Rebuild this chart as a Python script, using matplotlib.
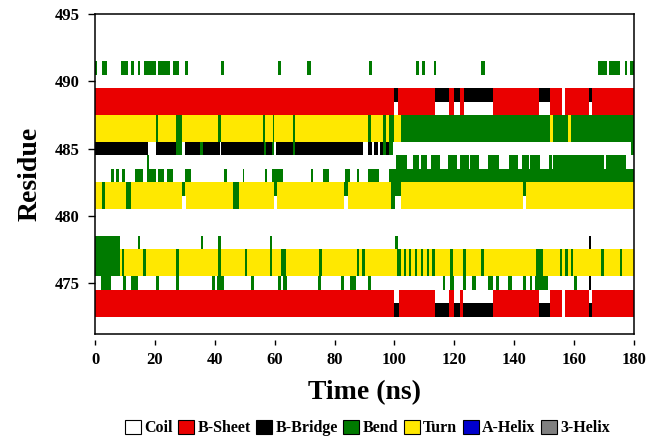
import matplotlib
matplotlib.use("Agg")
import matplotlib.pyplot as plt
from matplotlib.patches import Patch

plt.rcParams['font.family'] = ['Liberation Serif', 'DejaVu Serif']
plt.rcParams['font.weight'] = 'bold'

# DSSP states and colours
states = ["Coil", "B-Sheet", "B-Bridge", "Bend", "Turn", "A-Helix", "3-Helix"]
colors = ["#ffffff", "#ea0000", "#000000", "#007a00", "#ffe800", "#0000cc", "#808080"]

# each row: (state, start ns, end ns); later entries paint over earlier ones, Coil is background
r491 = [("Bend", 0, 0.7), ("Bend", 2.3, 3.9), ("Bend", 8.6, 11.0), ("Bend", 11.9, 13.1),
        ("Bend", 14.3, 15.1), ("Bend", 16.2, 20.4), ("Bend", 20.9, 25.0), ("Bend", 26.2, 28.2),
        ("Bend", 30.0, 31.2), ("Bend", 42.0, 43.2), ("Bend", 61.1, 62.2), ("Bend", 70.9, 72.0),
        ("Bend", 91.4, 92.4), ("Bend", 107.2, 108.1), ("Bend", 109.1, 110.1), ("Bend", 113.1, 113.9),
        ("Bend", 129.0, 130.1), ("Bend", 168.0, 171.0), ("Bend", 171.5, 175.4),
        ("Bend", 177.0, 177.6), ("Bend", 178.6, 180)]
r490 = []
r489 = [("B-Sheet", 0, 99.9), ("B-Bridge", 99.9, 101.2), ("B-Sheet", 101.2, 113.4),
        ("B-Bridge", 113.4, 118.1), ("B-Sheet", 118.1, 119.9), ("B-Bridge", 119.9, 121.9),
        ("B-Sheet", 121.9, 123.1), ("B-Bridge", 123.1, 133.0), ("B-Sheet", 133.0, 148.1),
        ("B-Bridge", 148.1, 152.0), ("B-Sheet", 152.0, 156.1), ("B-Sheet", 157.1, 165.0),
        ("B-Bridge", 165.0, 165.8), ("B-Sheet", 165.8, 180)]
r488 = [("B-Sheet", 0, 99.9), ("B-Sheet", 101.2, 113.4), ("B-Sheet", 118.1, 119.9),
        ("B-Sheet", 121.9, 123.1), ("B-Sheet", 133.0, 148.1), ("B-Sheet", 152.0, 156.1),
        ("B-Sheet", 157.1, 165.0), ("B-Sheet", 165.8, 180)]
r487 = [("Turn", 0, 102.1), ("Bend", 20.3, 21.1), ("Bend", 27.2, 29.0), ("Bend", 41.2, 42.0),
        ("Bend", 56.2, 56.9), ("Bend", 59.3, 59.9), ("Bend", 66.0, 66.9), ("Bend", 91.0, 92.0),
        ("Bend", 96.2, 97.0), ("Bend", 98.2, 99.9), ("Bend", 102.1, 180),
        ("Turn", 151.9, 152.9), ("Turn", 157.8, 158.8)]
r486 = list(r487)
r485 = [("B-Bridge", 0, 17.6), ("B-Bridge", 20.5, 27.2), ("Bend", 27.2, 29.2),
        ("B-Bridge", 30.2, 35.2), ("Bend", 35.2, 36.0), ("B-Bridge", 36.0, 41.6),
        ("B-Bridge", 42.1, 56.3), ("Bend", 56.3, 57.0), ("B-Bridge", 57.0, 59.0),
        ("Bend", 59.0, 59.9), ("B-Bridge", 60.6, 66.0), ("Bend", 66.0, 66.9),
        ("B-Bridge", 66.9, 89.6), ("B-Bridge", 91.3, 92.4), ("B-Bridge", 93.2, 94.5),
        ("B-Bridge", 95.2, 96.0), ("Bend", 96.0, 97.0), ("B-Bridge", 97.0, 98.3),
        ("Bend", 98.3, 99.6), ("Bend", 178.9, 180)]
r484 = [("Bend", 17.3, 18.1), ("Bend", 100.5, 104.2), ("Bend", 106.2, 108.1), ("Bend", 108.9, 110.8),
        ("Bend", 112.3, 115.3), ("Bend", 117.9, 121.0), ("Bend", 121.8, 124.8),
        ("Bend", 125.3, 128.2), ("Bend", 131.3, 134.9), ("Bend", 138.1, 141.1),
        ("Bend", 142.5, 145.0), ("Bend", 145.4, 148.7), ("Bend", 151.7, 152.6),
        ("Bend", 153.0, 170.1), ("Bend", 170.7, 177.3)]
r483 = [("Bend", 5.2, 6.3), ("Bend", 7.1, 7.9), ("Bend", 9.1, 9.9), ("Bend", 13.2, 15.9),
        ("Bend", 17.5, 20.3), ("Bend", 20.9, 23.2), ("Bend", 24.0, 26.0), ("Bend", 30.2, 32.1),
        ("Bend", 43.2, 44.0), ("Bend", 49.3, 49.9), ("Bend", 56.6, 57.3), ("Bend", 59.1, 62.9),
        ("Bend", 72.1, 72.9), ("Bend", 76.0, 78.0), ("Bend", 83.5, 85.1), ("Bend", 87.5, 88.2),
        ("Bend", 91.3, 94.9), ("Bend", 98.3, 180)]
r482 = [("Turn", 0, 180), ("Bend", 2.4, 3.4), ("Bend", 10.4, 12.1), ("Bend", 29.2, 30.2),
        ("Bend", 46.2, 48.1), ("Bend", 59.8, 60.8), ("Bend", 83.3, 84.4), ("Bend", 98.8, 102.2),
        ("Bend", 142.8, 143.9)]
r481 = [("Turn", 0, 29.2), ("Turn", 30.3, 59.8), ("Turn", 60.9, 83.3), ("Turn", 84.5, 98.8),
        ("Turn", 102.2, 142.8), ("Turn", 144.0, 180), ("Bend", 2.4, 3.4), ("Bend", 10.4, 12.1),
        ("Bend", 46.2, 48.1), ("Bend", 98.8, 100.3)]
r480 = []
r479 = []
r478 = [("Bend", 0, 8.3), ("Bend", 14.4, 15.1), ("Bend", 35.4, 36.2), ("Bend", 41.1, 42.0),
        ("Bend", 58.3, 59.2), ("Bend", 100.1, 101.1), ("B-Bridge", 164.9, 165.6)]
r477 = [("Turn", 0, 180), ("Bend", 0, 8.3), ("Bend", 8.9, 9.6), ("Bend", 16.0, 17.0),
        ("Bend", 27.2, 28.0), ("Bend", 41.1, 42.0), ("Bend", 50.0, 50.9), ("Bend", 58.3, 59.2),
        ("Bend", 62.1, 63.9), ("Bend", 74.9, 75.8), ("Bend", 87.4, 88.3), ("Bend", 89.3, 90.3),
        ("Bend", 101.0, 102.1), ("Bend", 103.3, 104.0), ("Bend", 104.9, 105.6),
        ("Bend", 106.8, 107.5), ("Bend", 108.9, 109.6), ("Bend", 111.0, 111.6),
        ("Bend", 112.6, 113.4), ("Bend", 118.5, 119.4), ("Bend", 123.0, 123.9),
        ("Bend", 129.0, 130.0), ("Bend", 147.2, 149.7), ("Bend", 155.2, 155.9),
        ("Bend", 157.1, 157.9), ("Bend", 159.0, 159.7), ("Bend", 169.0, 169.8),
        ("Bend", 175.2, 175.9)]
r476 = list(r477)
r475 = [("Bend", 2.0, 5.4), ("Bend", 9.4, 10.2), ("Bend", 12.1, 14.3), ("Bend", 20.5, 21.3),
        ("Bend", 27.2, 28.1), ("Bend", 39.2, 40.2), ("Bend", 40.6, 43.1), ("Bend", 52.2, 53.0),
        ("Bend", 61.1, 62.0), ("Bend", 62.8, 64.0), ("Bend", 74.4, 75.3), ("Bend", 82.0, 83.2),
        ("Bend", 85.2, 87.0), ("Bend", 91.0, 92.1), ("Bend", 116.2, 116.9), ("Bend", 118.4, 120.0),
        ("Bend", 122.9, 124.0), ("Bend", 126.0, 127.2), ("Bend", 131.3, 133.0),
        ("Bend", 133.9, 135.0), ("Bend", 138.0, 139.1), ("Bend", 142.8, 143.9),
        ("Bend", 145.1, 145.8), ("Bend", 147.0, 151.1), ("Bend", 159.8, 161.0),
        ("B-Bridge", 164.9, 165.6)]
r474 = [("B-Sheet", 0, 99.9), ("B-Sheet", 101.4, 113.4), ("B-Sheet", 118.1, 119.9),
        ("B-Sheet", 121.9, 123.0), ("B-Sheet", 133.0, 148.1), ("B-Sheet", 152.0, 156.1),
        ("B-Sheet", 157.1, 165.0), ("B-Sheet", 165.8, 180)]
r473 = r474 + [("B-Bridge", 99.9, 101.4), ("B-Bridge", 113.4, 118.1), ("B-Bridge", 119.9, 121.9),
               ("B-Bridge", 123.0, 133.0), ("B-Bridge", 148.1, 152.0), ("B-Bridge", 165.0, 165.8)]

rows = {491: r491, 490: r490, 489: r489, 488: r488, 487: r487, 486: r486, 485: r485,
        484: r484, 483: r483, 482: r482, 481: r481, 480: r480, 479: r479, 478: r478,
        477: r477, 476: r476, 475: r475, 474: r474, 473: r473}

xticks = [0, 20, 40, 60, 80, 100, 120, 140, 160, 180]
yticks = [475, 480, 485, 490, 495]

fig = plt.figure(figsize=(6.49, 4.43), dpi=100)
ax = fig.add_axes([0.1464, 0.246, 0.8306, 0.722])

cmap = dict(zip(states, colors))
for res, segs in rows.items():
    for st, t0, t1 in segs:
        ax.broken_barh([(t0, t1 - t0)], (res - 0.5, 1.0), facecolors=cmap[st],
                       edgecolor='none', linewidth=0)

ax.set_xlim(0, 180)
ax.set_ylim(471.2, 495)
ax.set_yticks(yticks)
ax.tick_params(axis='y', direction='out', length=5, width=1, pad=6, labelsize=12)
ax.tick_params(axis='x', bottom=False, labelbottom=False)
for sp in ax.spines.values():
    sp.set_linewidth(1.1)

sec = ax.secondary_xaxis(-0.019)
sec.set_xticks(xticks)
sec.spines['bottom'].set_visible(False)
sec.tick_params(length=3.5, width=1, pad=5, labelsize=12)
sec.set_xlabel("Time (ns)", fontsize=20, fontweight='bold', labelpad=9)
ax.set_ylabel("Residue", fontsize=20, fontweight='bold', labelpad=9)

handles = [Patch(facecolor=c, edgecolor='black', linewidth=0.8) for c in colors]
fig.legend(handles, states, loc='center', bbox_to_anchor=(0.566, 0.034), ncol=7,
           frameon=False, fontsize=11.5, handlelength=1.0, handleheight=1.0,
           handletextpad=0.2, columnspacing=0.35, borderaxespad=0)

fig.savefig("out.png", dpi=100)
